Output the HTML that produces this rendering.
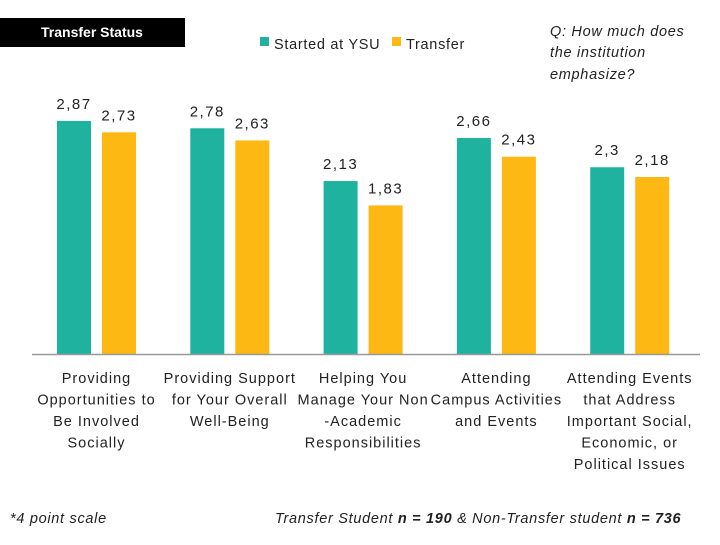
<!DOCTYPE html>
<html><head><meta charset="utf-8">
<style>
body{margin:0;background:#fff;width:720px;height:540px;overflow:hidden;font-family:"Liberation Sans",sans-serif;}
svg text{font-family:"Liberation Sans",sans-serif;fill:#222;letter-spacing:0.7px;}
</style></head>
<body>
<svg id="chart" width="720" height="540">
  <rect x="0" y="18" width="185" height="29" fill="#000"/>
  <text x="92" y="37" text-anchor="middle" style="fill:#fff;font-weight:bold;font-size:14px;letter-spacing:0">Transfer Status</text>
  <g>
    <rect x="260" y="37" width="9" height="9" fill="#1FB39F"/>
    <text x="274" y="49" font-size="14.5">Started at YSU</text>
  </g>
  <g>
    <rect x="392" y="37" width="9" height="9" fill="#FDB813"/>
    <text x="406" y="49" font-size="14.5">Transfer</text>
  </g>
  <text font-style="italic" font-size="14.5">
    <tspan x="550" y="36">Q: How much does</tspan>
    <tspan x="550" y="57">the institution</tspan>
    <tspan x="550" y="79">emphasize?</tspan>
  </text>
  <g id="bars"></g>
  <line x1="32" y1="354.5" x2="700" y2="354.5" stroke="#999" stroke-width="1.5"/>
  <g id="cats"></g>
  <text x="10" y="523" font-style="italic" font-size="14.5">*4 point scale</text>
  <text x="275" y="523" font-style="italic" font-size="14.5">Transfer Student <tspan font-weight="bold">n = 190</tspan> &amp; Non-Transfer student <tspan font-weight="bold">n = 736</tspan></text>
</svg>
<script>
const categories = [
  ["Providing","Opportunities to","Be Involved","Socially"],
  ["Providing Support","for Your Overall","Well-Being"],
  ["Helping You","Manage Your Non","-Academic","Responsibilities"],
  ["Attending","Campus Activities","and Events"],
  ["Attending Events","that Address","Important Social,","Economic, or","Political Issues"]
];
const startedValues = [2.87, 2.78, 2.13, 2.66, 2.3];
const transferValues = [2.73, 2.63, 1.83, 2.43, 2.18];
const startedLabels = ["2,87","2,78","2,13","2,66","2,3"];
const transferLabels = ["2,73","2,63","1,83","2,43","2,18"];

const NS = "http://www.w3.org/2000/svg";
const baseY = 354, pxPerUnit = 81.2, groupX0 = 57, groupStep = 133.3, barW = 34, offset = 45;
const yScale = v => baseY - v * pxPerUnit;
const xGroup = i => groupX0 + i * groupStep;
const bars = document.getElementById("bars");
const cats = document.getElementById("cats");

function addBar(x, v, color, label, name) {
  const r = document.createElementNS(NS, "rect");
  r.setAttribute("x", x); r.setAttribute("y", yScale(v));
  r.setAttribute("width", barW); r.setAttribute("height", baseY - yScale(v));
  r.setAttribute("fill", color);
  
  
  bars.appendChild(r);
  const t = document.createElementNS(NS, "text");
  t.setAttribute("x", x + barW / 2); t.setAttribute("y", yScale(v) - 12);
  t.setAttribute("text-anchor", "middle"); t.setAttribute("font-size", "15");
  t.setAttribute("style", "letter-spacing:1.5px");
  t.textContent = label;
  
  
  bars.appendChild(t);
}

categories.forEach((lines, i) => {
  const x = xGroup(i);
  addBar(x, startedValues[i], "#1FB39F", startedLabels[i], "bar-started-" + (i + 1));
  addBar(x + offset, transferValues[i], "#FDB813", transferLabels[i], "bar-transfer-" + (i + 1));
  const t = document.createElementNS(NS, "text");
  t.setAttribute("text-anchor", "middle"); t.setAttribute("font-size", "14.5");
  t.setAttribute("style", "letter-spacing:1px");
  
  
  lines.forEach((ln, j) => {
    const s = document.createElementNS(NS, "tspan");
    s.setAttribute("x", x + (offset + barW) / 2);
    s.setAttribute("y", 383 + j * 21.5);
    s.textContent = ln;
    t.appendChild(s);
  });
  cats.appendChild(t);
});
</script>
</body></html>
